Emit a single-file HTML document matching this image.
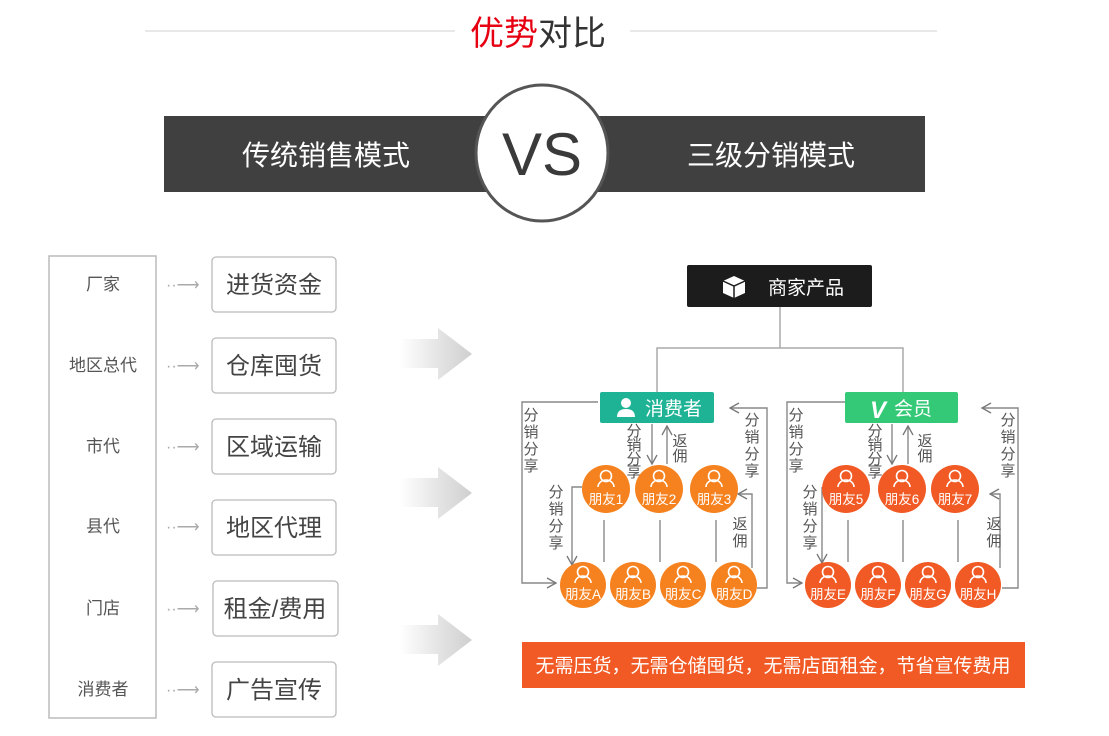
<!DOCTYPE html>
<html><head><meta charset="utf-8"><style>
html,body{margin:0;padding:0;background:#fff;}
svg{display:block;font-family:"Liberation Sans","Noto Sans CJK SC",sans-serif;}
</style></head><body>
<svg width="1109" height="736" viewBox="0 0 1109 736" xmlns="http://www.w3.org/2000/svg">
<defs>
<linearGradient id="ag" x1="0" x2="1" y1="0" y2="0"><stop offset="0" stop-color="#fff"/><stop offset="0.5" stop-color="#e6e6e6"/><stop offset="1" stop-color="#cfcfcf"/></linearGradient>
<marker id="ar" markerWidth="12" markerHeight="12" refX="10" refY="6" orient="auto" markerUnits="userSpaceOnUse"><path d="M1 1 L10 6 L1 11" fill="none" stroke="#777" stroke-width="1.3"/></marker>
<g id="p"><circle cx="0" cy="-13" r="5.5" fill="none" stroke="#fff" stroke-width="1.6"/><path d="M-8 -2 a8 7 0 0 1 16 0" fill="none" stroke="#fff" stroke-width="1.6"/></g>
</defs>
<!-- title -->
<line x1="145" y1="31" x2="455" y2="31" stroke="#e8e8e8" stroke-width="2"/>
<line x1="630" y1="31" x2="937" y2="31" stroke="#e8e8e8" stroke-width="2"/>
<text x="538" y="45" font-size="34" text-anchor="middle"><tspan fill="#e60012">优势</tspan><tspan fill="#333">对比</tspan></text>
<!-- band -->
<rect x="164" y="116" width="761" height="76" fill="#404040"/>
<text x="326" y="165" font-size="28" fill="#fff" text-anchor="middle">传统销售模式</text>
<text x="771" y="165" font-size="28" fill="#fff" text-anchor="middle">三级分销模式</text>
<ellipse cx="542" cy="153" rx="66" ry="68" fill="#fff" stroke="#555" stroke-width="3"/>
<text x="542" y="175" font-size="60" fill="#3a3a3a" text-anchor="middle">VS</text>
<!-- left panel -->
<rect x="49" y="256" width="107" height="462" fill="#fff" stroke="#bbb" stroke-width="1.5"/>
<g font-size="17" fill="#555" text-anchor="middle">
<text x="103" y="290">厂家</text><text x="103" y="371">地区总代</text><text x="103" y="452">市代</text>
<text x="103" y="532">县代</text><text x="103" y="614">门店</text><text x="103" y="695">消费者</text>
</g>
<g fill="#aaa" font-size="16">
<text x="166" y="290">··⟶</text><text x="166" y="371">··⟶</text><text x="166" y="452">··⟶</text>
<text x="166" y="532">··⟶</text><text x="166" y="614">··⟶</text><text x="166" y="695">··⟶</text>
</g>
<g fill="#fff" stroke="#bbb" stroke-width="1.3">
<rect x="212" y="257" width="124" height="55" rx="4"/><rect x="212" y="338" width="124" height="55" rx="4"/>
<rect x="212" y="419" width="124" height="55" rx="4"/><rect x="212" y="500" width="124" height="55" rx="4"/>
<rect x="213" y="581" width="125" height="55" rx="4"/><rect x="212" y="662" width="124" height="55" rx="4"/>
</g>
<g font-size="24" fill="#444" text-anchor="middle">
<text x="274" y="293">进货资金</text><text x="274" y="374">仓库囤货</text><text x="274" y="455">区域运输</text>
<text x="274" y="536">地区代理</text><text x="275" y="617">租金/费用</text><text x="274" y="698">广告宣传</text>
</g>
<!-- big arrows -->
<path d="M400 339 H438 V328 L472 354 L438 380 V368 H400 Z" fill="url(#ag)"/>
<path d="M400 478 H438 V467 L472 493 L438 519 V507 H400 Z" fill="url(#ag)"/>
<path d="M400 625 H438 V614 L472 640 L438 666 V654 H400 Z" fill="url(#ag)"/>
<!-- top product -->
<rect x="687" y="265" width="185" height="42" rx="2" fill="#1c1c1c"/>
<g transform="translate(734,287)"><path d="M-11 -6 L0 -11 L11 -6 L11 6 L0 11 L-11 6 Z" fill="#fff"/><path d="M-11 -6 L0 -1 L11 -6 M0 -1 V11" stroke="#1c1c1c" stroke-width="1.5" fill="none"/></g>
<text x="768" y="294" font-size="19" fill="#fff">商家产品</text>
<g stroke="#aaa" stroke-width="1.5" fill="none">
<path d="M780 307 V348 M657 392 V348 H903 V392"/>
</g>
<!-- category boxes -->
<rect x="600" y="392" width="114" height="31" rx="2" fill="#1db394"/>
<g transform="translate(626,413)"><circle cx="0" cy="-10" r="5" fill="#fff"/><path d="M-9 4 Q-9 -4 0 -4 Q9 -4 9 4 Z" fill="#fff"/></g>
<text x="645" y="415" font-size="19" fill="#fff">消费者</text>
<rect x="845" y="392" width="113" height="31" rx="2" fill="#34c977"/>
<text x="870" y="418" font-size="24" font-weight="bold" font-style="italic" fill="#fff">V</text>
<text x="894" y="415" font-size="19" fill="#fff">会员</text>
<!-- connectors -->
<g stroke="#888" stroke-width="1.4" fill="none">
<path d="M598 402 H522 V583 H556" marker-end="url(#ar)"/>
<path d="M757 588 H767 V408 H730" marker-end="url(#ar)"/>
<path d="M582 487 H572 V565" marker-end="url(#ar)"/>
<path d="M752 568 V494 H738" marker-end="url(#ar)"/>
<path d="M652 424 V464" marker-end="url(#ar)"/>
<path d="M667 464 V426" marker-end="url(#ar)"/>
<path d="M604 520 V562 M660 520 V562 M716 520 V562"/>
<path d="M845 402 H787 V583 H802" marker-end="url(#ar)"/>
<path d="M1002 588 H1018 V408 H982" marker-end="url(#ar)"/>
<path d="M822 487 H822 V563" marker-end="url(#ar)"/>
<path d="M1000 568 V494 H990" marker-end="url(#ar)"/>
<path d="M892 424 V464" marker-end="url(#ar)"/>
<path d="M908 464 V426" marker-end="url(#ar)"/>
<path d="M848 520 V562 M903 520 V562 M958 520 V562"/>
</g>
<g font-size="15" fill="#555" text-anchor="middle">
<text x="531" y="420">分</text><text x="531" y="437">销</text><text x="531" y="454">分</text><text x="531" y="471">享</text>
<text x="556" y="497">分</text><text x="556" y="514">销</text><text x="556" y="531">分</text><text x="556" y="548">享</text>
<text x="634" y="436">分</text><text x="634" y="450">销</text><text x="634" y="464">分</text><text x="634" y="477">享</text>
<text x="680" y="446">返</text><text x="680" y="461">佣</text>
<text x="752" y="425">分</text><text x="752" y="442">销</text><text x="752" y="459">分</text><text x="752" y="476">享</text>
<text x="740" y="529">返</text><text x="740" y="546">佣</text>
<text x="796" y="420">分</text><text x="796" y="437">销</text><text x="796" y="454">分</text><text x="796" y="471">享</text>
<text x="810" y="497">分</text><text x="810" y="514">销</text><text x="810" y="531">分</text><text x="810" y="548">享</text>
<text x="875" y="436">分</text><text x="875" y="450">销</text><text x="875" y="464">分</text><text x="875" y="477">享</text>
<text x="925" y="446">返</text><text x="925" y="461">佣</text>
<text x="1008" y="425">分</text><text x="1008" y="442">销</text><text x="1008" y="459">分</text><text x="1008" y="476">享</text>
<text x="994" y="529">返</text><text x="994" y="546">佣</text>
</g>
<!-- circles -->
<g font-size="13.5" fill="#fff" text-anchor="middle">
<g transform="translate(606,489)"><circle r="24" fill="#f5821f"/><use href="#p"/><text y="15">朋友1</text></g>
<g transform="translate(659,489)"><circle r="24" fill="#f5821f"/><use href="#p"/><text y="15">朋友2</text></g>
<g transform="translate(714,489)"><circle r="24" fill="#f5821f"/><use href="#p"/><text y="15">朋友3</text></g>
<g transform="translate(583,585)"><circle r="23" fill="#f5821f"/><use href="#p"/><text y="14">朋友A</text></g>
<g transform="translate(633,585)"><circle r="23" fill="#f5821f"/><use href="#p"/><text y="14">朋友B</text></g>
<g transform="translate(683,585)"><circle r="23" fill="#f5821f"/><use href="#p"/><text y="14">朋友C</text></g>
<g transform="translate(734,585)"><circle r="23" fill="#f5821f"/><use href="#p"/><text y="14">朋友D</text></g>
<g transform="translate(846,489)"><circle r="24" fill="#f15a24"/><use href="#p"/><text y="15">朋友5</text></g>
<g transform="translate(902,489)"><circle r="24" fill="#f15a24"/><use href="#p"/><text y="15">朋友6</text></g>
<g transform="translate(955,489)"><circle r="24" fill="#f15a24"/><use href="#p"/><text y="15">朋友7</text></g>
<g transform="translate(828,585)"><circle r="23" fill="#f15a24"/><use href="#p"/><text y="14">朋友E</text></g>
<g transform="translate(878,585)"><circle r="23" fill="#f15a24"/><use href="#p"/><text y="14">朋友F</text></g>
<g transform="translate(928,585)"><circle r="23" fill="#f15a24"/><use href="#p"/><text y="14">朋友G</text></g>
<g transform="translate(978,585)"><circle r="23" fill="#f15a24"/><use href="#p"/><text y="14">朋友H</text></g>
</g>
<!-- banner -->
<rect x="522" y="642" width="503" height="46" fill="#f15a24"/>
<text x="773" y="672" font-size="19" fill="#fff" text-anchor="middle">无需压货，无需仓储囤货，无需店面租金，节省宣传费用</text>
</svg>
</body></html>
